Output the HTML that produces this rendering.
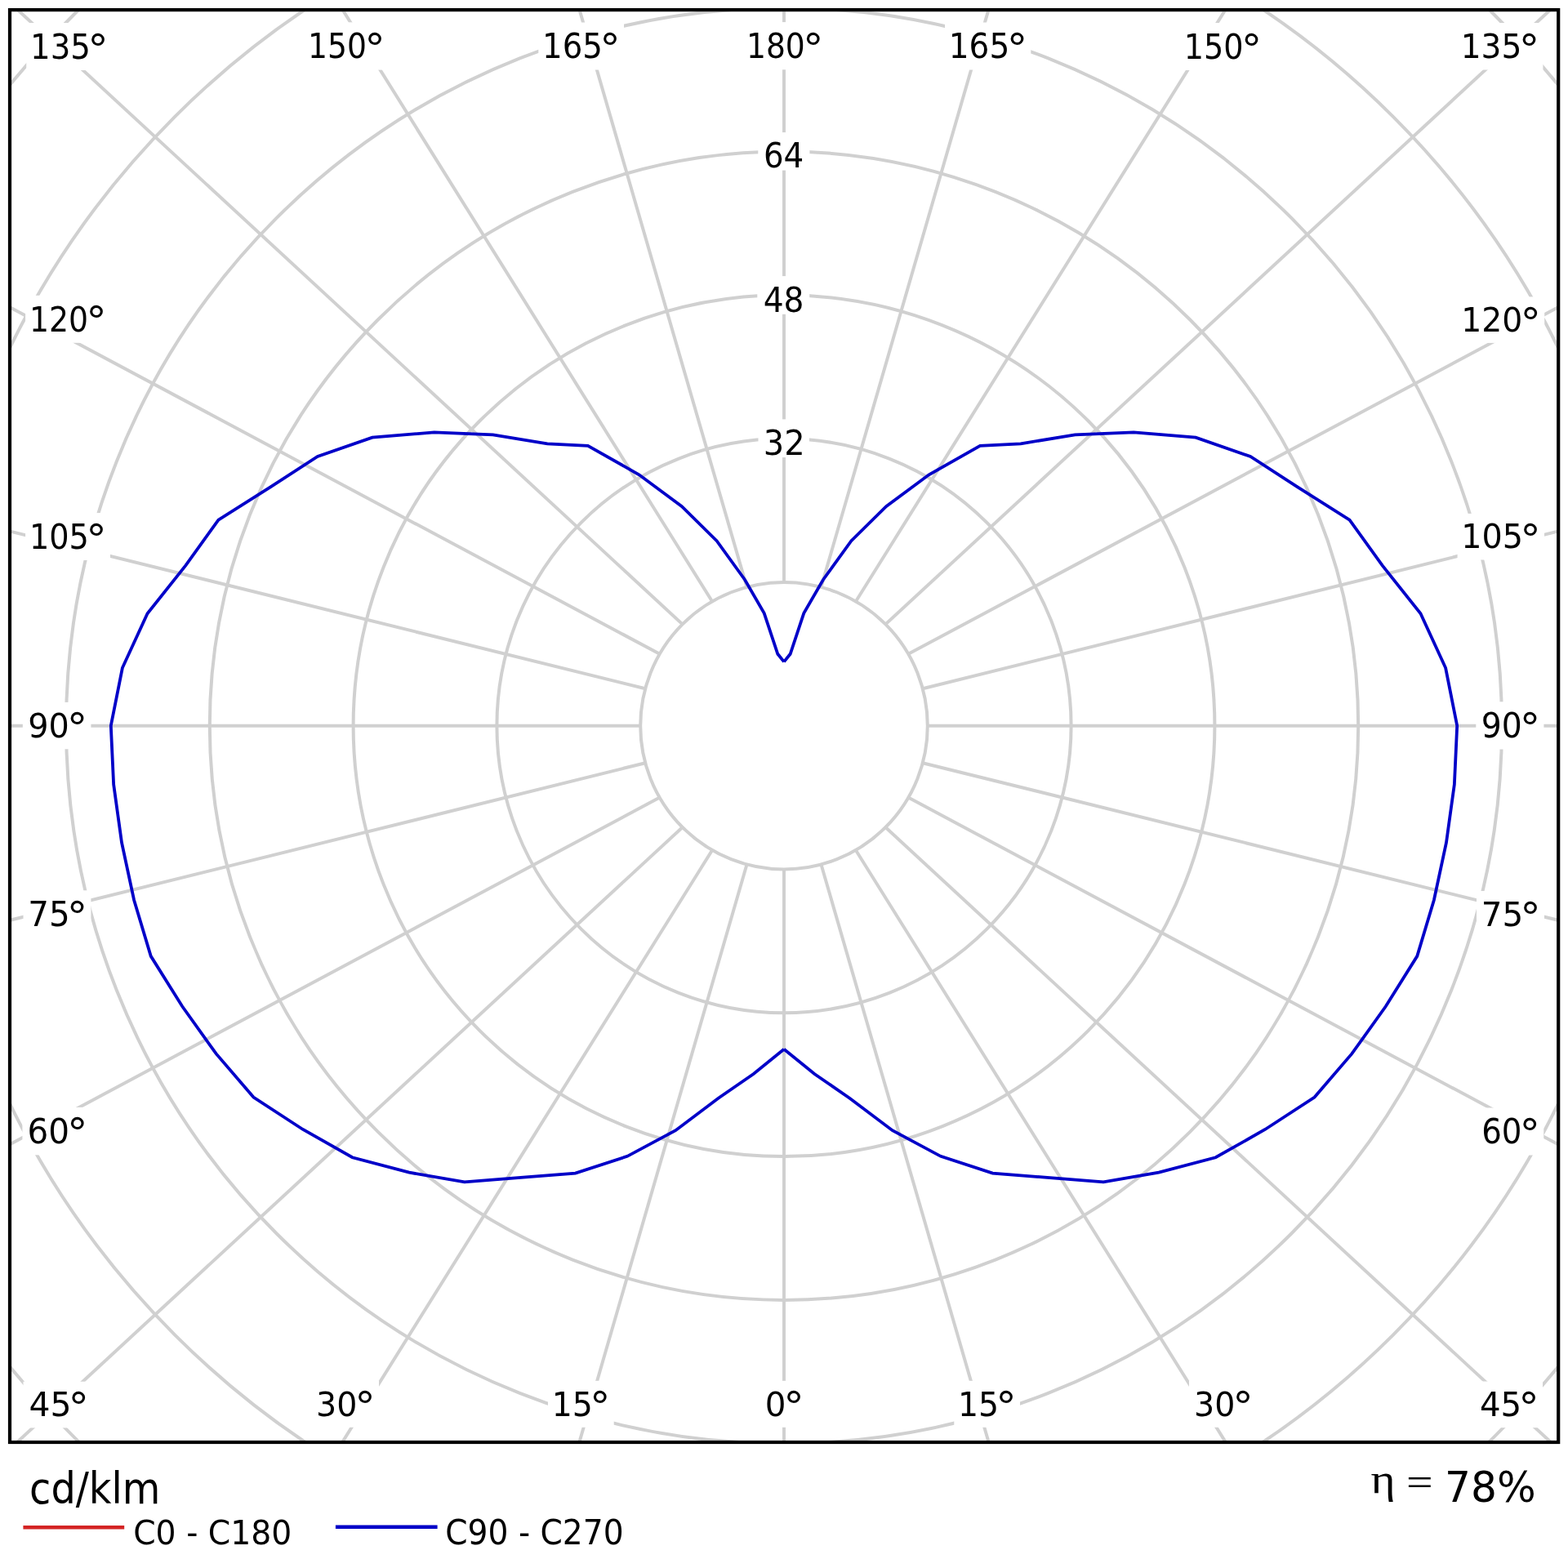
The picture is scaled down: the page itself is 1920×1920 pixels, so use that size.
<!DOCTYPE html>
<html><head><meta charset="utf-8"><title>Polar diagram</title>
<style>html,body{margin:0;padding:0;background:#fff;}svg{display:block;}</style>
</head><body>
<svg width="1920" height="1920" viewBox="0 0 1920 1920">
<defs><clipPath id="fr"><rect x="14" y="14.2" width="1892" height="1749.8"/></clipPath></defs>
<rect x="0" y="0" width="1920" height="1920" fill="#fff"/>
<g clip-path="url(#fr)" fill="none" stroke="#d0d0d0" stroke-width="4.0">
<circle cx="960.0" cy="888.7" r="175.80"/>
<circle cx="960.0" cy="888.7" r="351.60"/>
<circle cx="960.0" cy="888.7" r="527.40"/>
<circle cx="960.0" cy="888.7" r="703.20"/>
<circle cx="960.0" cy="888.7" r="879.00"/>
<circle cx="960.0" cy="888.7" r="1054.80"/>
<circle cx="960.0" cy="888.7" r="1230.60"/>
<line x1="960.00" y1="1064.50" x2="960.00" y2="3064.50"/>
<line x1="1005.50" y1="1058.51" x2="1562.41" y2="2979.41"/>
<line x1="1047.90" y1="1040.95" x2="2107.52" y2="2737.18"/>
<line x1="1084.31" y1="1013.01" x2="2553.08" y2="2370.47"/>
<line x1="1112.25" y1="976.60" x2="2876.76" y2="1918.14"/>
<line x1="1129.81" y1="934.20" x2="3071.17" y2="1414.96"/>
<line x1="1135.80" y1="888.70" x2="3135.80" y2="888.70"/>
<line x1="1129.81" y1="843.20" x2="3071.17" y2="362.44"/>
<line x1="1112.25" y1="800.80" x2="2876.76" y2="-140.74"/>
<line x1="1084.31" y1="764.39" x2="2553.08" y2="-593.07"/>
<line x1="1047.90" y1="736.45" x2="2107.52" y2="-959.78"/>
<line x1="1005.50" y1="718.89" x2="1562.41" y2="-1202.01"/>
<line x1="960.00" y1="712.90" x2="960.00" y2="-1287.10"/>
<line x1="914.50" y1="718.89" x2="357.59" y2="-1202.01"/>
<line x1="872.10" y1="736.45" x2="-187.52" y2="-959.78"/>
<line x1="835.69" y1="764.39" x2="-633.08" y2="-593.07"/>
<line x1="807.75" y1="800.80" x2="-956.76" y2="-140.74"/>
<line x1="790.19" y1="843.20" x2="-1151.17" y2="362.44"/>
<line x1="784.20" y1="888.70" x2="-1215.80" y2="888.70"/>
<line x1="790.19" y1="934.20" x2="-1151.17" y2="1414.96"/>
<line x1="807.75" y1="976.60" x2="-956.76" y2="1918.14"/>
<line x1="835.69" y1="1013.01" x2="-633.08" y2="2370.47"/>
<line x1="872.10" y1="1040.95" x2="-187.52" y2="2737.18"/>
<line x1="914.50" y1="1058.51" x2="357.59" y2="2979.41"/>
</g>
<g fill="#fff">
<rect x="32.25" y="28.00" width="104.75" height="58.00"/>
<rect x="372.20" y="27.30" width="103.65" height="58.30"/>
<rect x="659.30" y="27.50" width="104.70" height="58.00"/>
<rect x="909.10" y="27.10" width="103.65" height="58.20"/>
<rect x="1157.00" y="27.50" width="105.30" height="58.00"/>
<rect x="1445.00" y="28.00" width="104.50" height="58.00"/>
<rect x="1784.00" y="28.00" width="105.40" height="57.50"/>
<rect x="31.10" y="361.80" width="103.90" height="58.00"/>
<rect x="31.10" y="628.10" width="103.90" height="57.90"/>
<rect x="27.80" y="859.90" width="83.60" height="57.35"/>
<rect x="28.50" y="1090.30" width="82.90" height="57.40"/>
<rect x="27.40" y="1355.90" width="84.30" height="58.40"/>
<rect x="28.50" y="1691.70" width="84.70" height="56.70"/>
<rect x="381.00" y="1690.80" width="83.00" height="57.00"/>
<rect x="671.00" y="1690.80" width="80.70" height="57.00"/>
<rect x="930.30" y="1690.80" width="58.70" height="57.00"/>
<rect x="1168.30" y="1690.80" width="80.70" height="57.00"/>
<rect x="1456.00" y="1690.80" width="83.00" height="57.00"/>
<rect x="1805.00" y="1691.50" width="84.00" height="56.70"/>
<rect x="1784.60" y="363.40" width="106.60" height="56.50"/>
<rect x="1784.60" y="628.90" width="106.40" height="56.60"/>
<rect x="1807.30" y="859.30" width="83.10" height="58.20"/>
<rect x="1808.00" y="1091.00" width="83.00" height="57.10"/>
<rect x="1807.90" y="1356.50" width="82.35" height="58.00"/>
<rect x="928.30" y="162.10" width="63.10" height="46.50"/>
<rect x="927.30" y="338.10" width="63.90" height="46.70"/>
<rect x="928.50" y="513.40" width="62.40" height="46.70"/>
</g>
<text transform="translate(36.99,71.86) scale(0.9142,1)" font-family="'DejaVu Sans', 'Liberation Sans', sans-serif" font-size="42.38" fill="#000">135</text>
<text transform="translate(107.36,77.50) scale(1.0194,1)" font-family="'DejaVu Sans', 'Liberation Sans', sans-serif" font-size="50.00" fill="#000">°</text>
<text transform="translate(377.06,71.46) scale(0.8804,1)" font-family="'DejaVu Sans', 'Liberation Sans', sans-serif" font-size="42.78" fill="#000">150</text>
<text transform="translate(446.21,76.80) scale(1.0194,1)" font-family="'DejaVu Sans', 'Liberation Sans', sans-serif" font-size="50.00" fill="#000">°</text>
<text transform="translate(664.04,71.36) scale(0.9135,1)" font-family="'DejaVu Sans', 'Liberation Sans', sans-serif" font-size="42.38" fill="#000">165</text>
<text transform="translate(734.36,77.00) scale(1.0194,1)" font-family="'DejaVu Sans', 'Liberation Sans', sans-serif" font-size="50.00" fill="#000">°</text>
<text transform="translate(913.96,71.16) scale(0.8832,1)" font-family="'DejaVu Sans', 'Liberation Sans', sans-serif" font-size="42.65" fill="#000">180</text>
<text transform="translate(983.11,76.60) scale(1.0194,1)" font-family="'DejaVu Sans', 'Liberation Sans', sans-serif" font-size="50.00" fill="#000">°</text>
<text transform="translate(1161.70,71.36) scale(0.9217,1)" font-family="'DejaVu Sans', 'Liberation Sans', sans-serif" font-size="42.38" fill="#000">165</text>
<text transform="translate(1232.66,77.00) scale(1.0194,1)" font-family="'DejaVu Sans', 'Liberation Sans', sans-serif" font-size="50.00" fill="#000">°</text>
<text transform="translate(1449.80,71.86) scale(0.9002,1)" font-family="'DejaVu Sans', 'Liberation Sans', sans-serif" font-size="42.38" fill="#000">150</text>
<text transform="translate(1519.86,77.50) scale(1.0194,1)" font-family="'DejaVu Sans', 'Liberation Sans', sans-serif" font-size="50.00" fill="#000">°</text>
<text transform="translate(1788.70,71.37) scale(0.9378,1)" font-family="'DejaVu Sans', 'Liberation Sans', sans-serif" font-size="41.72" fill="#000">135</text>
<text transform="translate(1859.76,77.50) scale(1.0194,1)" font-family="'DejaVu Sans', 'Liberation Sans', sans-serif" font-size="50.00" fill="#000">°</text>
<text transform="translate(35.94,405.66) scale(0.8921,1)" font-family="'DejaVu Sans', 'Liberation Sans', sans-serif" font-size="42.38" fill="#000">120</text>
<text transform="translate(105.36,411.30) scale(1.0194,1)" font-family="'DejaVu Sans', 'Liberation Sans', sans-serif" font-size="50.00" fill="#000">°</text>
<text transform="translate(35.89,671.87) scale(0.9053,1)" font-family="'DejaVu Sans', 'Liberation Sans', sans-serif" font-size="42.25" fill="#000">105</text>
<text transform="translate(105.36,677.60) scale(1.0194,1)" font-family="'DejaVu Sans', 'Liberation Sans', sans-serif" font-size="50.00" fill="#000">°</text>
<text transform="translate(34.22,903.13) scale(0.9570,1)" font-family="'DejaVu Sans', 'Liberation Sans', sans-serif" font-size="41.52" fill="#000">90</text>
<text transform="translate(81.76,909.40) scale(1.0194,1)" font-family="'DejaVu Sans', 'Liberation Sans', sans-serif" font-size="50.00" fill="#000">°</text>
<text transform="translate(34.27,1133.57) scale(0.9576,1)" font-family="'DejaVu Sans', 'Liberation Sans', sans-serif" font-size="42.15" fill="#000">75</text>
<text transform="translate(81.76,1139.80) scale(1.0194,1)" font-family="'DejaVu Sans', 'Liberation Sans', sans-serif" font-size="50.00" fill="#000">°</text>
<text transform="translate(33.56,1400.16) scale(0.9444,1)" font-family="'DejaVu Sans', 'Liberation Sans', sans-serif" font-size="42.91" fill="#000">60</text>
<text transform="translate(82.06,1405.40) scale(1.0194,1)" font-family="'DejaVu Sans', 'Liberation Sans', sans-serif" font-size="50.00" fill="#000">°</text>
<text transform="translate(35.46,1734.28) scale(0.9921,1)" font-family="'DejaVu Sans', 'Liberation Sans', sans-serif" font-size="41.21" fill="#000">45</text>
<text transform="translate(83.56,1741.20) scale(1.0194,1)" font-family="'DejaVu Sans', 'Liberation Sans', sans-serif" font-size="50.00" fill="#000">°</text>
<text transform="translate(387.03,1733.68) scale(0.9634,1)" font-family="'DejaVu Sans', 'Liberation Sans', sans-serif" font-size="41.06" fill="#000">30</text>
<text transform="translate(434.36,1740.30) scale(1.0194,1)" font-family="'DejaVu Sans', 'Liberation Sans', sans-serif" font-size="50.00" fill="#000">°</text>
<text transform="translate(675.66,1733.68) scale(0.9479,1)" font-family="'DejaVu Sans', 'Liberation Sans', sans-serif" font-size="41.61" fill="#000">15</text>
<text transform="translate(722.06,1740.30) scale(1.0194,1)" font-family="'DejaVu Sans', 'Liberation Sans', sans-serif" font-size="50.00" fill="#000">°</text>
<text transform="translate(936.67,1733.68) scale(0.9838,1)" font-family="'DejaVu Sans', 'Liberation Sans', sans-serif" font-size="41.06" fill="#000">0</text>
<text transform="translate(959.36,1740.30) scale(1.0194,1)" font-family="'DejaVu Sans', 'Liberation Sans', sans-serif" font-size="50.00" fill="#000">°</text>
<text transform="translate(1172.96,1733.68) scale(0.9479,1)" font-family="'DejaVu Sans', 'Liberation Sans', sans-serif" font-size="41.61" fill="#000">15</text>
<text transform="translate(1219.36,1740.30) scale(1.0194,1)" font-family="'DejaVu Sans', 'Liberation Sans', sans-serif" font-size="50.00" fill="#000">°</text>
<text transform="translate(1462.03,1733.68) scale(0.9634,1)" font-family="'DejaVu Sans', 'Liberation Sans', sans-serif" font-size="41.06" fill="#000">30</text>
<text transform="translate(1509.36,1740.30) scale(1.0194,1)" font-family="'DejaVu Sans', 'Liberation Sans', sans-serif" font-size="50.00" fill="#000">°</text>
<text transform="translate(1811.99,1734.08) scale(0.9771,1)" font-family="'DejaVu Sans', 'Liberation Sans', sans-serif" font-size="41.21" fill="#000">45</text>
<text transform="translate(1859.36,1741.00) scale(1.0194,1)" font-family="'DejaVu Sans', 'Liberation Sans', sans-serif" font-size="50.00" fill="#000">°</text>
<text transform="translate(1789.27,405.79) scale(0.9745,1)" font-family="'DejaVu Sans', 'Liberation Sans', sans-serif" font-size="40.40" fill="#000">120</text>
<text transform="translate(1861.56,412.90) scale(1.0194,1)" font-family="'DejaVu Sans', 'Liberation Sans', sans-serif" font-size="50.00" fill="#000">°</text>
<text transform="translate(1789.23,671.39) scale(0.9797,1)" font-family="'DejaVu Sans', 'Liberation Sans', sans-serif" font-size="40.53" fill="#000">105</text>
<text transform="translate(1861.36,678.40) scale(1.0194,1)" font-family="'DejaVu Sans', 'Liberation Sans', sans-serif" font-size="50.00" fill="#000">°</text>
<text transform="translate(1813.75,903.36) scale(0.9214,1)" font-family="'DejaVu Sans', 'Liberation Sans', sans-serif" font-size="42.65" fill="#000">90</text>
<text transform="translate(1860.76,908.80) scale(1.0194,1)" font-family="'DejaVu Sans', 'Liberation Sans', sans-serif" font-size="50.00" fill="#000">°</text>
<text transform="translate(1813.76,1133.97) scale(0.9690,1)" font-family="'DejaVu Sans', 'Liberation Sans', sans-serif" font-size="41.74" fill="#000">75</text>
<text transform="translate(1861.36,1140.50) scale(1.0194,1)" font-family="'DejaVu Sans', 'Liberation Sans', sans-serif" font-size="50.00" fill="#000">°</text>
<text transform="translate(1814.18,1400.36) scale(0.9157,1)" font-family="'DejaVu Sans', 'Liberation Sans', sans-serif" font-size="42.38" fill="#000">60</text>
<text transform="translate(1860.61,1406.00) scale(1.0194,1)" font-family="'DejaVu Sans', 'Liberation Sans', sans-serif" font-size="50.00" fill="#000">°</text>
<text transform="translate(934.88,205.36) scale(0.9170,1)" font-family="'DejaVu Sans', 'Liberation Sans', sans-serif" font-size="42.38" fill="#000">64</text>
<text transform="translate(934.64,381.56) scale(0.9196,1)" font-family="'DejaVu Sans', 'Liberation Sans', sans-serif" font-size="42.65" fill="#000">48</text>
<text transform="translate(934.80,556.86) scale(0.9379,1)" font-family="'DejaVu Sans', 'Liberation Sans', sans-serif" font-size="42.65" fill="#000">32</text>
<g fill="none" stroke="#0000c8" stroke-width="3.8" stroke-linejoin="miter" stroke-miterlimit="10">
<polyline points="960.00,1284.70 922.70,1315.07 879.60,1344.67 827.23,1384.22 768.13,1415.87 704.53,1436.56 640.75,1441.66 568.82,1447.36 501.05,1435.66 431.44,1417.26 370.91,1383.00 310.41,1343.55 264.58,1290.20 223.17,1232.29 184.75,1170.87 164.08,1101.97 149.01,1031.70 139.14,960.52 135.80,888.70 149.89,817.82 180.52,751.26 227.35,692.39 267.45,636.63 331.93,595.83 388.86,558.95 455.89,535.72 531.78,529.38 603.62,532.32 670.23,543.37 719.90,545.80 782.50,581.26 834.69,619.98 877.57,662.23 912.12,710.00 935.69,750.83 952.30,800.74 960.00,810.40"/>
<polyline points="960.00,1284.70 997.30,1315.07 1040.40,1344.67 1092.77,1384.22 1151.87,1415.87 1215.47,1436.56 1279.25,1441.66 1351.18,1447.36 1418.95,1435.66 1488.56,1417.26 1549.09,1383.00 1609.59,1343.55 1655.42,1290.20 1696.83,1232.29 1735.25,1170.87 1755.92,1101.97 1770.99,1031.70 1780.86,960.52 1784.20,888.70 1770.11,817.82 1739.48,751.26 1692.65,692.39 1652.55,636.63 1588.07,595.83 1531.14,558.95 1464.11,535.72 1388.22,529.38 1316.38,532.32 1249.77,543.37 1200.10,545.80 1137.50,581.26 1085.31,619.98 1042.43,662.23 1007.88,710.00 984.31,750.83 967.70,800.74 960.00,810.40"/>
</g>
<rect x="12" y="12.1" width="1896.2" height="1753.9" fill="none" stroke="#000" stroke-width="4.2"/>
<text transform="translate(36.12,1841.38) scale(0.8846,1)" font-family="'DejaVu Sans', 'Liberation Sans', sans-serif" font-size="54.06" fill="#000">cd/klm</text>
<line x1="28.4" y1="1870.25" x2="152.2" y2="1870.25" stroke="#d42424" stroke-width="4.5"/>
<text transform="translate(163.14,1890.98) scale(0.9488,1)" font-family="'DejaVu Sans', 'Liberation Sans', sans-serif" font-size="41.46" fill="#000">C0 - C180</text>
<line x1="410.9" y1="1869.7" x2="535.6" y2="1869.7" stroke="#0000c8" stroke-width="4.4"/>
<text transform="translate(545.24,1891.16) scale(0.9247,1)" font-family="'DejaVu Sans', 'Liberation Sans', sans-serif" font-size="42.38" fill="#000">C90 - C270</text>
<text transform="translate(1678.54,1827.76) scale(1.1270,1)" font-family="'Liberation Serif', 'DejaVu Serif', serif" font-size="51.09" fill="#000">η</text>
<text transform="translate(1722.11,1830.80) scale(1.1854,1)" font-family="'Liberation Serif', 'DejaVu Serif', serif" font-size="48.80" fill="#000">=</text>
<text transform="translate(1768.98,1839.22) scale(0.9627,1)" font-family="'DejaVu Sans', 'Liberation Sans', sans-serif" font-size="52.19" fill="#000">78%</text>
</svg>
</body></html>
